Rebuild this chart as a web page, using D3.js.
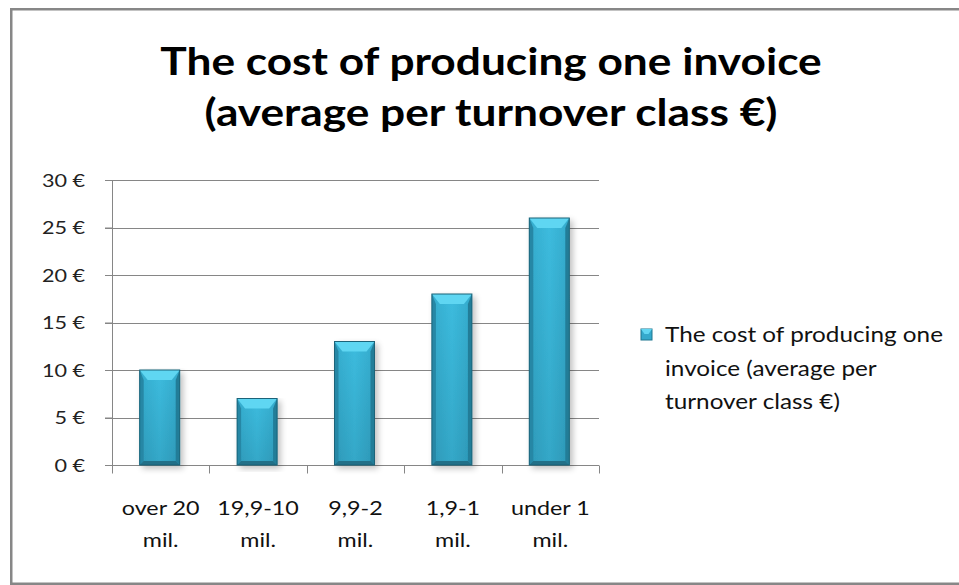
<!DOCTYPE html>
<html><head><meta charset="utf-8">
<script src="https://cdn.jsdelivr.net/npm/d3@7"></script>
<style>body{margin:0;background:#fff}svg{display:block}text{font-family:Lato,"Open Sans",sans-serif}</style>
</head><body>
<svg id="c" width="959" height="585"></svg>
<script>
const categories = [["over 20","mil."],["19,9-10","mil."],["9,9-2","mil."],["1,9-1","mil."],["under 1","mil."]];
const values = [10, 7, 13, 18, 26];
const yTicks = [0, 5, 10, 15, 20, 25, 30];
const titleLines = ["The cost of producing one invoice", "(average per turnover class €)"];
const legendLines = ["The cost of producing one", "invoice (average per", "turnover class €)"];

const svg = d3.select("#c");
const defs = svg.append("defs");
const g1 = defs.append("linearGradient").attr("id","barH").attr("x1",0).attr("x2",1).attr("y1",0).attr("y2",0);
g1.append("stop").attr("offset","0").attr("stop-color","#2f9fbf");
g1.append("stop").attr("offset","0.5").attr("stop-color","#3cbbdd");
g1.append("stop").attr("offset","1").attr("stop-color","#2e9cbc");
const g2 = defs.append("linearGradient").attr("id","barV").attr("x1",0).attr("x2",0).attr("y1",0).attr("y2",1);
g2.append("stop").attr("offset","0").attr("stop-color","#3dbde0");
g2.append("stop").attr("offset","1").attr("stop-color","#2a8fad");
const f = defs.append("filter").attr("id","sh").attr("x","-20%").attr("y","-5%").attr("width","150%").attr("height","115%");
f.append("feGaussianBlur").attr("in","SourceAlpha").attr("stdDeviation",3);
f.append("feOffset").attr("dx",3).attr("dy",3).attr("result","b");
f.append("feComponentTransfer").append("feFuncA").attr("type","linear").attr("slope",0.25);
const fm = f.append("feMerge"); fm.append("feMergeNode"); fm.append("feMergeNode").attr("in","SourceGraphic");

// frame
svg.append("rect").attr("x",11.25).attr("y",9.25).attr("width",970).attr("height",574.5)
  .attr("fill","none").attr("stroke","#878787").attr("stroke-width",2.5);

// title
svg.append("g").selectAll("text").data(titleLines).join("text")
  .attr("transform",(d,i)=>`translate(491,${75+i*51}) scale(1.18,1)`).attr("text-anchor","middle")
  .attr("font-size",37.5).attr("font-weight","bold").attr("fill","#000").text(d=>d);

const x = d3.scaleBand().domain(d3.range(categories.length)).range([112,599]).paddingInner(0).paddingOuter(0);
const y = d3.scaleLinear().domain([0,30]).range([465,180]);

// gridlines
svg.append("g").selectAll("line").data(yTicks.slice(1)).join("line")
  .attr("x1",105).attr("x2",599).attr("y1",d=>Math.round(y(d))+0.5).attr("y2",d=>Math.round(y(d))+0.5)
  .attr("stroke","#868686").attr("stroke-width",1);

// y axis
const ya = svg.append("g").attr("transform","translate(112,0)")
  .call(d3.axisLeft(y).tickValues(yTicks).tickSize(7).tickFormat(""));
ya.select(".domain").attr("stroke","#868686").attr("d","M0.5,180V472");
ya.selectAll(".tick line").attr("stroke","#868686");
svg.append("g").selectAll("text").data(yTicks).join("text")
  .attr("transform",d=>`translate(85,${y(d)+6.5}) scale(1.2,1)`).attr("text-anchor","end")
  .attr("font-size",18).attr("fill","#222").text(d=>d+" €");

// x axis
const xa = svg.append("g").attr("transform","translate(0,465.5)");
xa.append("line").attr("x1",105).attr("x2",599).attr("stroke","#868686");
xa.selectAll(".t").data(d3.range(categories.length+1)).join("line")
  .attr("x1",d=>Math.round(112+d*x.bandwidth())+0.5).attr("x2",d=>Math.round(112+d*x.bandwidth())+0.5)
  .attr("y1",0).attr("y2",8).attr("stroke","#868686");

svg.append("g").selectAll("text").data(categories).join("text")
  .attr("transform",(d,i)=>`translate(${x(i)+x.bandwidth()/2},515) scale(1.26,1)`).attr("text-anchor","middle")
  .attr("font-size",18.5).attr("fill","#111")
  .selectAll("tspan").data(d=>d).join("tspan")
  .attr("x",0).attr("dy",(d,i)=>i?32:0).text(d=>d);

// bars
const bw = 40;
const bars = svg.append("g").selectAll("g").data(values).join("g")
  .attr("filter","url(#sh)");
bars.each(function(v,i){
  const gg = d3.select(this);
  const x0 = x(i)+x.bandwidth()/2 - bw/2 - 1, x1 = x0+bw, yt = y(v), yb = y(0);
  gg.append("rect").attr("x",x0).attr("y",yt).attr("width",bw).attr("height",yb-yt).attr("fill","url(#barV)");
  gg.append("rect").attr("x",x0).attr("y",yt).attr("width",bw).attr("height",yb-yt).attr("fill","url(#barH)").attr("opacity",0.55);
  const e = 4, t = 10;
  gg.append("path").attr("d",`M${x0},${yt}L${x0+e},${yt+t}L${x0+e},${yb-e}L${x0},${yb}Z`).attr("fill","#2787a5");
  gg.append("path").attr("d",`M${x1},${yt}L${x1-e},${yt+t}L${x1-e},${yb-e}L${x1},${yb}Z`).attr("fill","#237d98");
  gg.append("path").attr("d",`M${x0},${yb}L${x0+e},${yb-e}L${x1-e},${yb-e}L${x1},${yb}Z`).attr("fill","#236f88");
  gg.append("path").attr("d",`M${x0},${yt}L${x1},${yt}L${x1-e-4},${yt+t}L${x0+e+4},${yt+t}Z`).attr("fill","#5fd6f2");
  gg.append("rect").attr("x",x0).attr("y",yt).attr("width",bw).attr("height",yb-yt)
    .attr("fill","none").attr("stroke","#1a6379").attr("stroke-width",1);
});

// legend
const lg = svg.append("g");
lg.append("rect").attr("x",641).attr("y",329).attr("width",11).attr("height",11).attr("fill","#35a9cc").attr("stroke","#1f7690");
lg.append("path").attr("d","M641,329L652,329L648.5,334L644.5,334Z").attr("fill","#62d6f2");
lg.selectAll("text").data(legendLines).join("text")
  .attr("transform",(d,i)=>`translate(665,${342+i*33.7}) scale(1.13,1)`)
  .attr("font-size",21.5).attr("fill","#111").text(d=>d);
</script>
</body></html>
